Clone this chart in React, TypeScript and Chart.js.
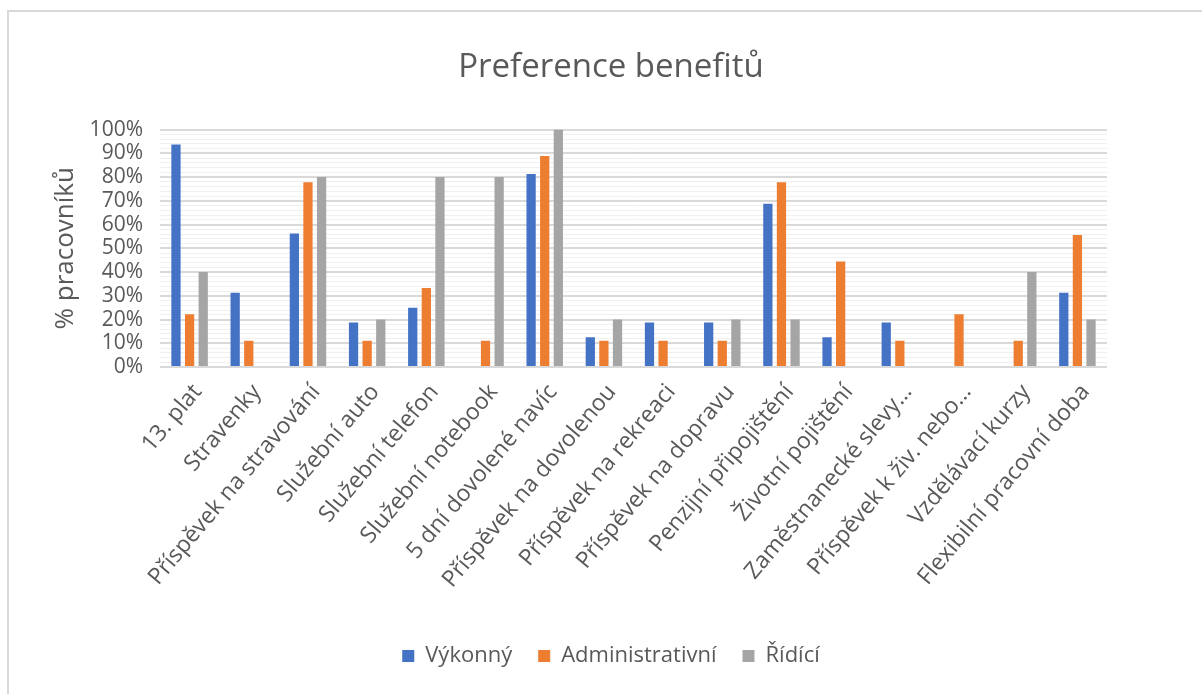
import React, { useEffect, useRef } from "react";
import { Chart, registerables } from "chart.js";

Chart.register(...registerables);

const categories = [
  "13. plat",
  "Stravenky",
  "Příspěvek na stravování",
  "Služební auto",
  "Služební telefon",
  "Služební notebook",
  "5 dní dovolené navíc",
  "Příspěvek na dovolenou",
  "Příspěvek na rekreaci",
  "Příspěvek na dopravu",
  "Penzijní připojištění",
  "Životní pojištění",
  "Zaměstnanecké slevy…",
  "Příspěvek k živ. nebo…",
  "Vzdělávací kurzy",
  "Flexibilní pracovní doba",
];

const vykonny = [93.75, 31.25, 56.25, 18.75, 25, 0, 81.25, 12.5, 18.75, 18.75, 68.75, 12.5, 18.75, 0, 0, 31.25];
const administrativni = [22.2, 11.1, 77.8, 11.1, 33.3, 11.1, 88.9, 11.1, 11.1, 11.1, 77.8, 44.4, 11.1, 22.2, 11.1, 55.6];
const ridici = [40, 0, 80, 20, 80, 80, 100, 20, 0, 20, 20, 0, 0, 0, 40, 20];

const seriesNames = ["Výkonný", "Administrativní", "Řídící"];
const seriesColors = ["#4472C4", "#ED7D31", "#A5A5A5"];

const TEXT = "#595959";

export default function App() {
  const ref = useRef<HTMLCanvasElement | null>(null);

  useEffect(() => {
    document.body.style.margin = "0";
    if (!ref.current) return;
    Chart.defaults.font.family = '"Open Sans", "DejaVu Sans", sans-serif';
    Chart.defaults.color = TEXT;
    const values = [vykonny, administrativni, ridici];
    const chart = new Chart(ref.current, {
      type: "bar",
      data: {
        labels: categories,
        datasets: values.map((d, i) => ({
          label: seriesNames[i],
          data: d,
          backgroundColor: seriesColors[i],
          borderWidth: 0,
          barPercentage: 0.68,
          categoryPercentage: 0.69,
          yAxisID: "y",
        })),
      },
      options: {
        responsive: false,
        animation: false,
        devicePixelRatio: 1,
        layout: { padding: { left: 50, right: 30, top: 0, bottom: 17 } },
        plugins: {
          title: {
            display: true,
            text: "Preference benefitů",
            color: TEXT,
            font: { size: 33, weight: "normal" },
            padding: { top: 48, bottom: 42 },
          },
          legend: {
            position: "bottom",
            labels: {
              boxWidth: 12,
              boxHeight: 12,
              padding: 26,
              color: TEXT,
              font: { size: 22 },
            },
          },
          tooltip: { enabled: false },
        },
        scales: {
          x: {
            grid: { display: false },
            border: { display: false },
            ticks: {
              autoSkip: false,
              minRotation: 50,
              maxRotation: 50,
              labelOffset: 8,
              color: TEXT,
              font: { size: 23 },
              padding: 4,
            },
            afterFit: (s: any) => {
              s.height = 252;
            },
          },
          y: {
            min: 0,
            max: 100,
            border: { display: false },
            grid: {
              drawTicks: false,
              color: (c: any) => (Math.round(c.tick.value) % 10 === 0 ? "#d9d9d9" : "#f0f0f0"),
              lineWidth: (c: any) => (Math.round(c.tick.value) % 10 === 0 ? 2 : 1),
            },
            ticks: {
              stepSize: 2,
              autoSkip: false,
              padding: 17,
              color: TEXT,
              font: { size: 21 },
              callback: (v: any) => (Math.round(Number(v)) % 10 === 0 ? Math.round(Number(v)) + "%" : ""),
            },
            title: {
              display: true,
              text: "% pracovníků",
              color: TEXT,
              font: { size: 26 },
              padding: 0,
            },
            afterFit: (s: any) => {
              s.width = 110;
            },
          },
          y2: {
            position: "right",
            display: true,
            grid: { display: false },
            border: { display: false },
            ticks: { display: false },
            afterFit: (s: any) => {
              s.width = 65;
            },
          },
        },
      },
    });
    return () => chart.destroy();
  }, []);

  return (
    <div style={{ position: "fixed", left: 0, top: 0, width: 1202, height: 694, background: "#fff", overflow: "hidden" }}>
      <div
        style={{
          position: "absolute",
          left: 7,
          top: 10,
          width: 1220,
          height: 720,
          border: "2px solid #d9d9d9",
          boxSizing: "border-box",
        }}
      />
      <canvas ref={ref} width={1202} height={694} style={{ position: "absolute", left: 0, top: 0 }} />
    </div>
  );
}
